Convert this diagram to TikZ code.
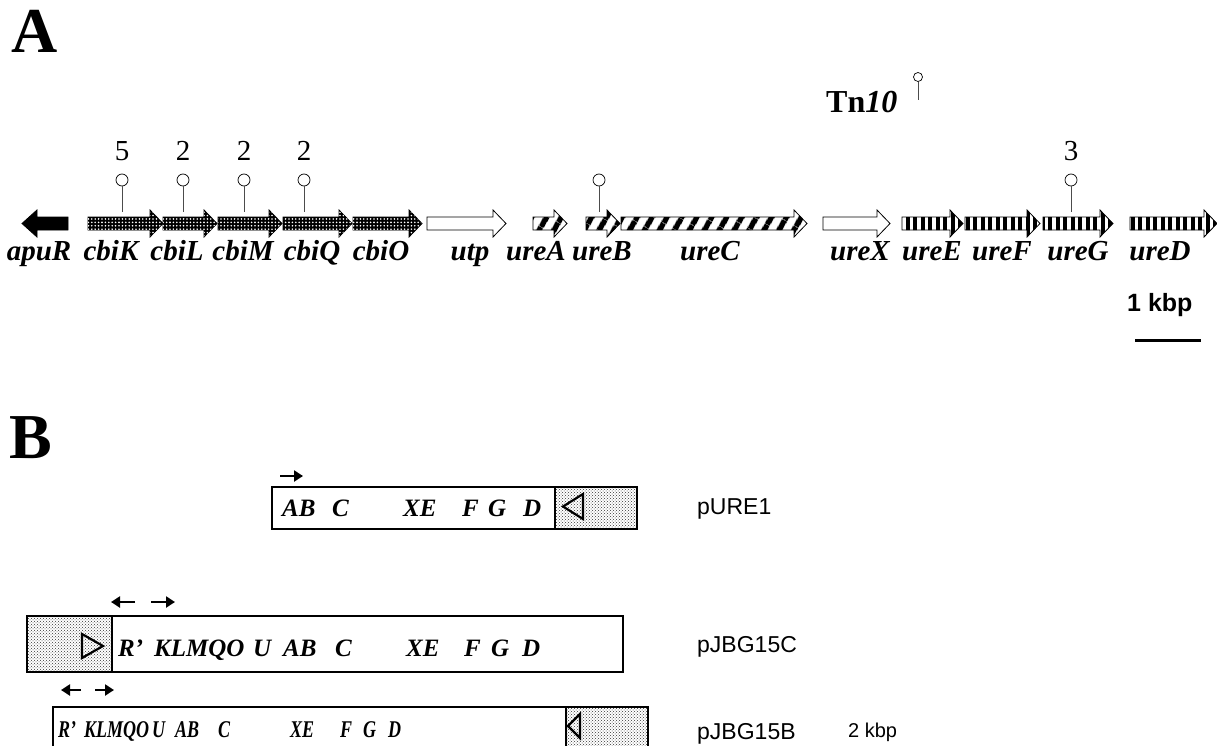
\documentclass[tikz,border=0pt]{standalone}
\usepackage{fontspec}
\setmainfont{Liberation Serif}
\setsansfont{Liberation Sans}
\usetikzlibrary{patterns,patterns.meta,arrows.meta}
\newcommand\genearr[3]{%
  \draw[#3] (#1,217) -- ({#2-13},217) -- ({#2-13},210) -- (#2,223.5) -- ({#2-13},237) -- ({#2-13},230) -- (#1,230) -- cycle;}
\tikzset{
  gene/.style={draw=black, line width=0.8pt},
  cbi/.style={gene, fill=black, postaction={pattern={Dots[radius=0.9pt,distance=3.4pt]}, pattern color=white}},
  white gene/.style={gene, fill=white},
  diag/.style={gene, fill=white, postaction={pattern={Lines[angle=60,distance=13pt,line width=6pt]}, pattern color=black}},
  vert/.style={gene, fill=white, postaction={pattern={Lines[angle=90,distance=7.5pt,line width=4pt]}, pattern color=black}},
  glabel/.style={anchor=base, inner sep=0pt, font=\fontsize{29}{31}\selectfont\bfseries\itshape},
  num/.style={anchor=base, inner sep=0pt, font=\fontsize{29}{31}\selectfont},
  pinhead/.style={circle, draw=black, line width=0.7pt, fill=white, minimum size=12pt, inner sep=0pt},
  stem/.style={draw=black!70, line width=0.8pt},
  panel/.style={anchor=base west, inner sep=0pt, font=\fontsize{64}{66}\selectfont\bfseries},
  plasmid/.style={draw=black, line width=1.6pt},
  stipple/.style={pattern=crosshatch dots, pattern color=black!80},
  bl/.style={anchor=base west, inner sep=0pt, font=\fontsize{25}{27}\selectfont\bfseries\itshape},
  bln/.style={anchor=base west, inner sep=0pt, font=\fontsize{24}{26}\selectfont\bfseries\itshape, xscale=0.75},
  pname/.style={anchor=base west, inner sep=0pt, font=\fontsize{23}{25}\selectfont\sffamily},
  tri/.style={draw=black, line width=2.2pt, line join=miter},
  prom/.style={-{Triangle[length=9pt,width=11pt]}, line width=2.2pt},
}
\begin{document}
\begin{tikzpicture}[x=1pt,y=-1pt]
\useasboundingbox (0,0) rectangle (1217,746);
% panel letters
\node[panel] (A) at (11,53) {A};
\node[panel] (B) at (9,458) {B};
% Tn10
\node[anchor=base west, inner sep=0pt, font=\fontsize{32}{34}\selectfont\bfseries] (tn) at (826,113) {Tn\textit{10}};
\node[pinhead, minimum size=9pt] (tnpin) at (918,77) {};
\coordinate (tnend) at (918,100);
\draw[stem] (tnpin) -- (tnend);
% genes
\draw[gene, fill=black] (68,217) -- (37,217) -- (37,210) -- (22,223.5) -- (37,237) -- (37,230) -- (68,230) -- cycle;
\genearr{88}{163}{cbi}
\genearr{163}{217}{cbi}
\genearr{218}{282}{cbi}
\genearr{283}{352}{cbi}
\genearr{353}{422}{cbi}
\genearr{427}{506}{white gene}
\genearr{533}{567}{diag}
\genearr{586}{620}{diag}
\genearr{621}{807}{diag}
\genearr{823}{890}{white gene}
\genearr{902}{963}{vert}
\genearr{965}{1040}{vert}
\genearr{1043}{1113}{vert}
\genearr{1130}{1217}{vert}
% gene labels
\node[glabel] (lapuR) at (39,260) {apuR};
\node[glabel] (lcbiK) at (111,260) {cbiK};
\node[glabel] (lcbiL) at (177,260) {cbiL};
\node[glabel] (lcbiM) at (243,260) {cbiM};
\node[glabel] (lcbiQ) at (312,260) {cbiQ};
\node[glabel] (lcbiO) at (381,260) {cbiO};
\node[glabel] (lutp) at (470,260) {utp};
\node[glabel] (lureA) at (536,260) {ureA};
\node[glabel] (lureB) at (602,260) {ureB};
\node[glabel] (lureC) at (710,260) {ureC};
\node[glabel] (lureX) at (860,260) {ureX};
\node[glabel] (lureE) at (932,260) {ureE};
\node[glabel] (lureF) at (1002,260) {ureF};
\node[glabel] (lureG) at (1078,260) {ureG};
\node[glabel] (lureD) at (1160,260) {ureD};
% insertion counts and pins
\foreach \n/\x/\lab in {k/122/5, l/183/2, m/244/2, q/304/2, g/1071/3}{
  \node[num] (n\n) at (\x,161) {\lab};
}
\foreach \n/\x in {k/122, l/183, m/244, q/304, b/599, g/1071}{
  \node[pinhead] (p\n) at (\x,180) {};
  \coordinate (e\n) at (\x,212);
  \draw[stem] (p\n) -- (e\n);
}
% scale bar
\node[anchor=base west, inner sep=0pt, font=\fontsize{25}{27}\selectfont\sffamily\bfseries] (kbp1) at (1127,311) {1 kbp};
\coordinate (sb1) at (1135,340);
\coordinate (sb2) at (1201,340);
\draw[line width=3pt] (sb1) -- (sb2);
% pURE1
\draw[plasmid, stipple] (555,487) rectangle (637,529);
\draw[plasmid] (272,487) rectangle (637,529);
\draw[plasmid] (555,487) -- (555,529);
\draw[tri] (563,506.5) -- (583,494) -- (583,519) -- cycle;
\coordinate (u1a) at (280,476); \coordinate (u1b) at (303,476);
\draw[prom] (u1a) -- (u1b);
\node[bl] (u1AB) at (282,516) {AB};
\node[bl] (u1C) at (332,516) {C};
\node[bl] (u1XE) at (403,516) {XE};
\node[bl] (u1F) at (462,516) {F};
\node[bl] (u1G) at (488,516) {G};
\node[bl] (u1D) at (523,516) {D};
\node[pname] (pURE1) at (697,514) {pURE1};
% pJBG15C
\draw[plasmid, stipple] (27,616) rectangle (112,672);
\draw[plasmid] (27,616) rectangle (623,672);
\draw[plasmid] (112,616) -- (112,672);
\draw[tri] (103,646) -- (82,634) -- (82,658) -- cycle;
\coordinate (c1a) at (135,602); \coordinate (c1b) at (111,602);
\coordinate (c2a) at (151,602); \coordinate (c2b) at (175,602);
\draw[prom] (c1a) -- (c1b);
\draw[prom] (c2a) -- (c2b);
\node[bl] (cR) at (118,656) {R'};
\node[bl] (cK) at (154,656) {KLMQO};
\node[bl] (cU) at (253,656) {U};
\node[bl] (cAB) at (283,656) {AB};
\node[bl] (cC) at (335,656) {C};
\node[bl] (cXE) at (406,656) {XE};
\node[bl] (cF) at (464,656) {F};
\node[bl] (cG) at (491,656) {G};
\node[bl] (cD) at (522,656) {D};
\node[pname] (pJBG15C) at (697,652) {pJBG15C};
% pJBG15B
\draw[plasmid, stipple] (566,707) rectangle (648,760);
\draw[plasmid] (53,707) rectangle (648,760);
\draw[plasmid] (566,707) -- (566,760);
\draw[tri] (568,726) -- (580,714) -- (580,738) -- cycle;
\coordinate (b1a) at (81,690); \coordinate (b1b) at (61,690);
\coordinate (b2a) at (95,690); \coordinate (b2b) at (114,690);
\draw[prom] (b1a) -- (b1b);
\draw[prom] (b2a) -- (b2b);
\node[bln] (bR) at (58,737) {R'};
\node[bln] (bK) at (84,737) {KLMQO};
\node[bln] (bU) at (152,737) {U};
\node[bln] (bAB) at (175,737) {AB};
\node[bln] (bC) at (218,737) {C};
\node[bln] (bXE) at (290,737) {XE};
\node[bln] (bF) at (340,737) {F};
\node[bln] (bG) at (363,737) {G};
\node[bln] (bD) at (388,737) {D};
\node[pname] (pJBG15B) at (697,739) {pJBG15B};
\node[anchor=base west, inner sep=0pt, font=\fontsize{20}{22}\selectfont\sffamily] (kbp2) at (848,737) {2 kbp};
\end{tikzpicture}
\end{document}
